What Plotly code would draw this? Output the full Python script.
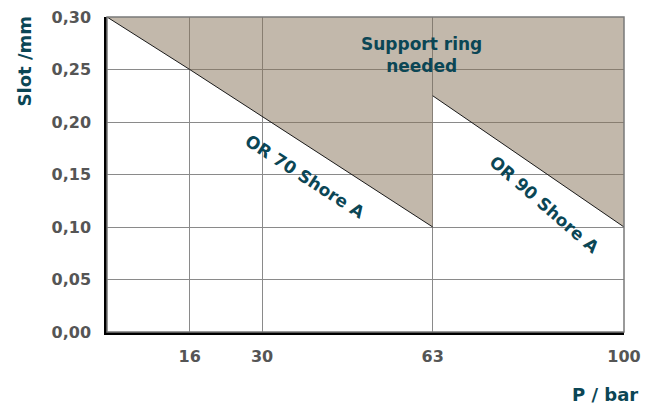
import plotly.graph_objects as go

# limit curves (pressure in bar, slot in mm)
or70_p = [0, 16, 63]
or70_slot = [0.30, 0.25, 0.10]
or90_p = [63, 100]
or90_slot = [0.225, 0.10]

x_ticks = [16, 30, 63, 100]
y_ticks = [0.00, 0.05, 0.10, 0.15, 0.20, 0.25, 0.30]
y_labels = ["0,00", "0,05", "0,10", "0,15", "0,20", "0,25", "0,30"]

TAN = "rgba(133,113,87,0.5)"
TEAL = "#0b4655"
GREY = "#555555"
FONT = "DejaVu Sans"
Y_TOP = 0.30

fig = go.Figure()

# shaded "support ring needed" zones: area above each limit curve
for px, sy in [(or70_p, or70_slot), (or90_p, or90_slot)]:
    fig.add_trace(go.Scatter(
        x=px + [px[-1], px[0], px[0]],
        y=sy + [Y_TOP, Y_TOP, sy[0]],
        fill="toself",
        fillcolor=TAN,
        mode="none",
        hoverinfo="skip",
    ))
    fig.add_trace(go.Scatter(
        x=px, y=sy, mode="lines",
        line=dict(color="#1a1a1a", width=1),
        hoverinfo="skip",
    ))

lab = dict(family=FONT, size=17, color=TEAL)
fig.add_annotation(x=60.8, y=0.264, text="<b>Support ring<br>needed</b>",
                   showarrow=False, font=lab)
fig.add_annotation(x=38.4, y=0.148, text="<b>OR 70 Shore A</b>", textangle=33,
                   showarrow=False, font=lab)
fig.add_annotation(x=84.7, y=0.121, text="<b>OR 90 Shore A</b>", textangle=41,
                   showarrow=False, font=lab)

ttl = dict(family=FONT, size=18, color=TEAL)
fig.add_annotation(xref="paper", yref="paper", x=-0.16, y=0.86,
                   xanchor="center", yanchor="middle",
                   text="<b>Slot /mm</b>", textangle=-90, showarrow=False, font=ttl)
fig.add_annotation(xref="paper", yref="paper", x=1.03, y=-0.197,
                   xanchor="right", yanchor="middle",
                   text="<b>P / bar</b>", showarrow=False, font=ttl)

# grey frame on top/right; black axis lines on left/bottom
fig.add_shape(type="rect", xref="paper", yref="paper", x0=0, x1=1, y0=0, y1=1,
              line=dict(color="#7a7a7a", width=1.5), layer="above")

# page body keeps an 8px margin, so the figure is 16px smaller than the window
fig.update_layout(
    width=638, height=398,
    margin=dict(l=99, r=22, t=9, b=74),
    plot_bgcolor="white", paper_bgcolor="white",
    showlegend=False,
    font=dict(family=FONT, size=16, color=GREY),
)
fig.update_xaxes(
    range=[0, 100], tickvals=x_ticks,
    ticktext=[f"<b>{v}</b>" for v in x_ticks],
    showgrid=True, gridcolor="#8a8a8a", gridwidth=1,
    showline=True, linecolor="black", linewidth=2.5,
    ticks="", ticklabelstandoff=8, zeroline=False, layer="above traces",
    ticklabeloverflow="allow", automargin=False,
)
fig.update_yaxes(
    range=[0, 0.30], tickvals=y_ticks,
    ticktext=[f"<b>{t}</b>" for t in y_labels],
    showgrid=True, gridcolor="#8a8a8a", gridwidth=1,
    showline=True, linecolor="black", linewidth=2.5,
    ticks="", ticklabelstandoff=10, zeroline=False, layer="above traces",
    ticklabeloverflow="allow", automargin=False,
)

fig.write_html("out.html")
